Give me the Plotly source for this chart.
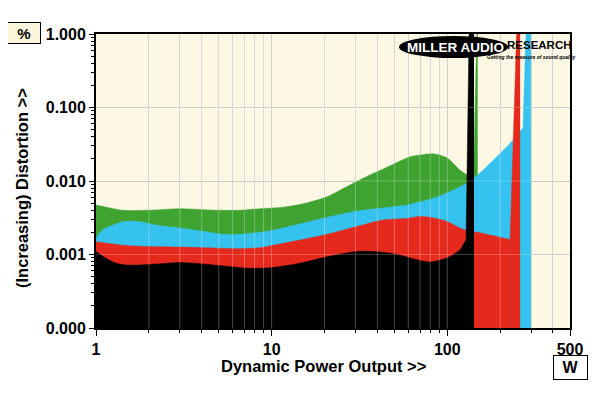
import math
import plotly.graph_objects as go

# ---- data (W, % distortion) ----
green_w = [1.0, 1.2, 1.42, 2.0, 3.0, 4.9, 6.6, 8.6, 11.6, 15.1, 20.7, 27.9, 36, 43, 52, 61, 70, 83, 100, 118, 130, 141, 146, 147, 149]
green_v = [0.0047, 0.0043, 0.0040, 0.0040, 0.0042, 0.0040, 0.0040, 0.0042, 0.0044, 0.0049, 0.0061, 0.0088, 0.0120, 0.0145, 0.0180, 0.0212, 0.0225, 0.0235, 0.0206, 0.0141, 0.0121, 0.0118, 1.0, 3, 3]
green_spike_at = 21

blue_w = [1.0, 1.1, 1.3, 1.42, 1.78, 2.22, 3.0, 3.9, 5.3, 6.6, 8.6, 9.8, 14.5, 20.7, 30.6, 43, 59, 70, 83, 100, 130, 154, 192, 237, 270, 285, 300]
blue_v = [0.00168, 0.0022, 0.0026, 0.0028, 0.0028, 0.0025, 0.0023, 0.0021, 0.00188, 0.00188, 0.0020, 0.0021, 0.0026, 0.0032, 0.0039, 0.0043, 0.0047, 0.0052, 0.0058, 0.0069, 0.0094, 0.0129, 0.0215, 0.036, 0.053, 3, 3]
blue_spike_at = 24

red_w = [1.0, 1.42, 2.0, 3.0, 4.9, 6.6, 8.6, 9.8, 14.5, 20.7, 30.6, 43, 59, 70, 80, 100, 118, 130, 148, 192, 228, 252, 260]
red_v = [0.00149, 0.00134, 0.00128, 0.00126, 0.00122, 0.00120, 0.00124, 0.00131, 0.00157, 0.00188, 0.00240, 0.00295, 0.0031, 0.0033, 0.0032, 0.0028, 0.0023, 0.0021, 0.0020, 0.00175, 0.0016, 3, 3]
red_spike_at = 20

black_w = [1.0, 1.15, 1.3, 1.5, 1.8, 2.2, 3.0, 3.9, 5.3, 7.5, 9.8, 14.5, 20.7, 30.6, 40, 52, 67, 80, 100, 118, 128, 134, 142]
black_v = [0.00110, 0.00088, 0.00076, 0.00072, 0.00072, 0.00074, 0.00078, 0.00075, 0.00070, 0.00065, 0.00066, 0.00076, 0.00093, 0.00110, 0.00109, 0.00100, 0.00085, 0.00079, 0.00090, 0.00116, 0.0016, 3, 3]
black_spike_at = 20

x_tickvals = [1, 10, 100, 500]
x_ticktext = ["1", "10", "100", "500"]
x_minor = [2, 3, 4, 5, 6, 7, 8, 9, 20, 30, 40, 50, 60, 70, 80, 90, 200, 300, 400]
y_tickvals = [0.0001, 0.001, 0.01, 0.1, 1.0]
y_ticktext = ["0.000", "0.001", "0.010", "0.100", "1.000"]
y_minor = [m * 10 ** e for e in range(-4, 0) for m in range(2, 10)]

series = [
    (green_w, green_v, green_spike_at, "#3FA331"),
    (blue_w, blue_v, blue_spike_at, "#36C2EE"),
    (red_w, red_v, red_spike_at, "#E5291D"),
    (black_w, black_v, black_spike_at, "#000000"),
]

fig = go.Figure()
for xs, ys, k, col in series:
    # smooth body of the curve
    fig.add_trace(go.Scatter(x=xs[:k + 1], y=ys[:k + 1], mode="lines", fill="tozeroy",
                             fillcolor=col,
                             line=dict(color=col, width=0.5, shape="spline", smoothing=0.7),
                             hoverinfo="skip"))
    # straight clipping spike
    fig.add_trace(go.Scatter(x=xs[k:], y=ys[k:], mode="lines", fill="tozeroy",
                             fillcolor=col, line=dict(color=col, width=0.5),
                             hoverinfo="skip"))

# plot area in the page: x 96..570, y 34..328 (page has an 8px body offset)
PL, PT, PW, PH = 96, 34, 474, 294
def px(x):
    return (x - PL) / PW
def py(y):
    return (PT + PH - y) / PH

FONT = "Liberation Sans, Arial, sans-serif"
fig.update_layout(
    width=592, height=385,
    margin=dict(l=PL - 8, r=30, t=PT - 8, b=65, autoexpand=False),
    paper_bgcolor="white", plot_bgcolor="#FCF8E4",
    showlegend=False,
    font=dict(family=FONT, color="black"),
    xaxis=dict(type="log", range=[0, math.log10(500)],
               tickvals=x_tickvals, ticktext=x_ticktext,
               ticks="outside", ticklen=6, tickcolor="black", tickwidth=1,
               tickfont=dict(size=16, weight="bold", family=FONT),
               showline=True, linecolor="black", linewidth=2, mirror=True,
               showgrid=True, gridcolor="#C2C2C2", gridwidth=1, zeroline=False,
               layer="above traces",
               minor=dict(tickvals=x_minor, ticks="outside", ticklen=3,
                          tickcolor="black", showgrid=True,
                          gridcolor="#CCCCCC", gridwidth=1)),
    yaxis=dict(type="log", range=[-4, 0],
               tickvals=y_tickvals, ticktext=y_ticktext,
               ticks="outside", ticklen=5, tickcolor="black", tickwidth=1,
               tickfont=dict(size=16, weight="bold", family=FONT),
               showline=True, linecolor="black", linewidth=2, mirror=True,
               showgrid=True, gridcolor="#C2C2C2", gridwidth=1, zeroline=False,
               layer="above traces",
               minor=dict(tickvals=y_minor, ticks="outside", ticklen=3,
                          tickcolor="black", showgrid=False)),
)

# grid showing faintly through the filled areas
for v in x_minor + x_tickvals[1:3]:
    fig.add_shape(type="line", xref="x", yref="paper", x0=v, x1=v, y0=0, y1=1,
                  line=dict(color="rgba(255,255,255,0.28)", width=1), layer="above")
for v in y_tickvals[1:4]:
    fig.add_shape(type="line", xref="paper", yref="y", x0=0, x1=1, y0=v, y1=v,
                  line=dict(color="rgba(255,255,255,0.22)", width=1), layer="above")

# axis titles
fig.add_annotation(text="<b>Dynamic Power Output &gt;&gt;</b>", xref="paper", yref="paper",
                   x=px(323), y=py(366), xanchor="center", yanchor="middle",
                   showarrow=False, font=dict(size=16.5, family=FONT))
fig.add_annotation(text="<b>(Increasing) Distortion &gt;&gt;</b>", xref="paper", yref="paper",
                   x=px(22), y=py(188), xanchor="center", yanchor="middle",
                   textangle=-90, showarrow=False, font=dict(size=16.5, family=FONT))
# unit boxes
fig.add_annotation(text="<b>%</b>", xref="paper", yref="paper",
                   x=px(24), y=py(33), xanchor="center", yanchor="middle",
                   showarrow=False, font=dict(size=15, family=FONT),
                   bgcolor="#FCF6DC", bordercolor="black", borderwidth=1,
                   width=30, height=18, borderpad=1)
fig.add_annotation(text="<b>W</b>", xref="paper", yref="paper",
                   x=px(570), y=py(367), xanchor="center", yanchor="middle",
                   showarrow=False, font=dict(size=16, family=FONT),
                   bgcolor="white", bordercolor="black", borderwidth=1,
                   width=31, height=21, borderpad=1)

# logo
fig.add_shape(type="circle", xref="paper", yref="paper",
              x0=px(399), x1=px(508), y0=py(58), y1=py(36),
              fillcolor="black", line=dict(width=0), layer="above")
fig.add_annotation(text="<b>MILLER AUDIO</b>", xref="paper", yref="paper",
                   x=px(455), y=py(47), xanchor="center", yanchor="middle",
                   showarrow=False, font=dict(size=13.5, family=FONT, color="white"))
fig.add_annotation(text="<b>RESEARCH</b>", xref="paper", yref="paper",
                   x=px(539), y=py(45), xanchor="center", yanchor="middle",
                   showarrow=False, font=dict(size=11.5, family=FONT, color="black"))
fig.add_annotation(text="<b><i>Getting the measure of sound quality</i></b>", xref="paper", yref="paper",
                   x=px(531), y=py(56.5), xanchor="center", yanchor="middle",
                   showarrow=False, font=dict(size=5, family=FONT, color="black"))

fig.write_html("out.html")
